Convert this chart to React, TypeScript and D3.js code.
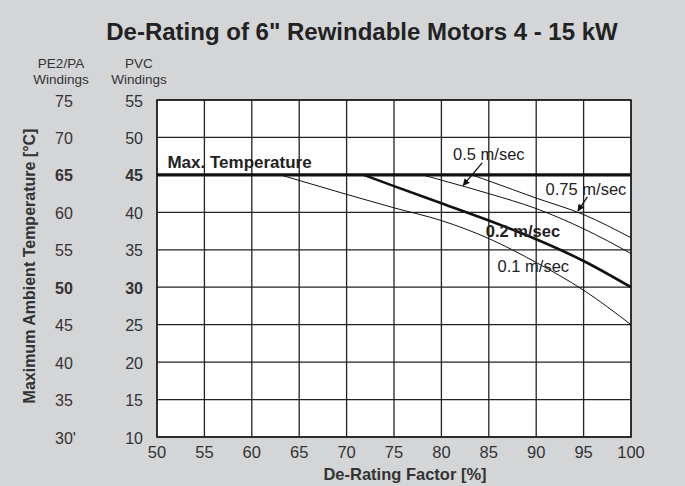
import React from "react";
import * as d3 from "d3";

// ---- data ----
const deratingTicks = [50, 55, 60, 65, 70, 75, 80, 85, 90, 95, 100];
const pvcTicks = [10, 15, 20, 25, 30, 35, 40, 45, 50, 55];
const pe2Labels = ["30'", "35", "40", "45", "50", "55", "60", "65", "70", "75"];
const boldPvcTicks = [30, 45];
const maxTemperature = 45;

const speed01X = [63, 70, 75, 80, 85, 90, 95, 100];
const speed01Y = [45, 42.4, 40.6, 38.9, 36.5, 33.3, 29.6, 25];
const speed02X = [71.8, 75, 80, 85, 90, 95, 100];
const speed02Y = [45, 43.5, 41.2, 38.9, 36.4, 33.5, 30];
const speed05X = [78, 80, 85, 90, 95, 100];
const speed05Y = [45, 44.3, 42.5, 40.5, 37.8, 34.5];
const speed075X = [83.2, 85, 90, 95, 100];
const speed075Y = [45, 44.2, 41.9, 39.7, 36.6];

const title = 'De-Rating of 6" Rewindable Motors 4 - 15 kW';
const xTitle = "De-Rating Factor [%]";
const yTitle = "Maximum Ambient Temperature [°C]";

const W = 685;
const H = 486;
const FONT = "'Liberation Sans', Arial, Helvetica, sans-serif";

export default function App() {
  const x = d3.scaleLinear().domain([50, 100]).range([157, 631]);
  const y = d3.scaleLinear().domain([10, 55]).range([437, 100]);

  const line = d3
    .line<[number, number]>()
    .x((d) => x(d[0]))
    .y((d) => y(d[1]))
    .curve(d3.curveMonotoneX);

  const zip = (xs: number[], ys: number[]) =>
    xs.map((v, i) => [v, ys[i]] as [number, number]);

  const series = [
    { pts: zip(speed01X, speed01Y), w: 1 },
    { pts: zip(speed05X, speed05Y), w: 1 },
    { pts: zip(speed075X, speed075Y), w: 1 },
    { pts: zip(speed02X, speed02Y), w: 2.6 },
  ];

  const labels = [
    { t: "0.5 m/sec", x: 85.0, y: 47.8, bold: false },
    { t: "0.75 m/sec", x: 95.25, y: 43.1, bold: false },
    { t: "0.2 m/sec", x: 88.6, y: 37.5, bold: true },
    { t: "0.1 m/sec", x: 89.7, y: 32.8, bold: false },
  ];

  const arrows = [
    { x1: 84.3, y1: 46.6, x2: 82.3, y2: 43.6 },
    { x1: 95.4, y1: 42.05, x2: 94.4, y2: 40.2 },
  ];

  return (
    <div style={{ position: "fixed", left: 0, top: 0 }}>
      <svg width={W} height={H} style={{ display: "block", fontFamily: FONT }}>
        <defs>
          <marker
            id="ah"
            viewBox="0 0 10 10"
            refX="9"
            refY="5"
            markerWidth="7"
            markerHeight="7"
            markerUnits="userSpaceOnUse"
            orient="auto"
          >
            <path d="M0,0 L10,5 L0,10 z" fill="#111" />
          </marker>
        </defs>
        <rect x={0} y={0} width={W} height={H} fill="#d4d5d7" />
        <text
          x={362}
          y={40}
          textAnchor="middle"
          fontSize={24}
          fontWeight="bold"
          fill="#222"
        >
          {title}
        </text>

        {/* plot area */}
        <rect
          x={x(50)}
          y={y(55)}
          width={x(100) - x(50)}
          height={y(10) - y(55)}
          fill="#fff"
        />
        {deratingTicks.map((t) => (
          <line
            key={"vx" + t}
            x1={x(t)}
            x2={x(t)}
            y1={y(10)}
            y2={y(55)}
            stroke="#222"
            strokeWidth={1.3}
          />
        ))}
        {pvcTicks.map((t) => (
          <line
            key={"hy" + t}
            x1={x(50)}
            x2={x(100)}
            y1={y(t)}
            y2={y(t)}
            stroke="#222"
            strokeWidth={1.3}
          />
        ))}
        <rect
          x={x(50)}
          y={y(55)}
          width={x(100) - x(50)}
          height={y(10) - y(55)}
          fill="none"
          stroke="#222"
          strokeWidth={1.6}
        />

        {/* curves */}
        {series.map((s, i) => (
          <path
            key={"s" + i}
            d={line(s.pts) || ""}
            fill="none"
            stroke="#111"
            strokeWidth={s.w}
          />
        ))}
        <line
          x1={x(50)}
          x2={x(100)}
          y1={y(maxTemperature)}
          y2={y(maxTemperature)}
          stroke="#111"
          strokeWidth={3.2}
        />
        <text
          x={x(51.1)}
          y={y(maxTemperature) - 7}
          fontSize={17}
          fontWeight="bold"
          fill="#222"
        >
          Max. Temperature
        </text>

        {labels.map((l) => (
          <text
            key={l.t}
            x={x(l.x)}
            y={y(l.y)}
            textAnchor="middle"
            dominantBaseline="central"
            fontSize={16.5}
            fontWeight={l.bold ? "bold" : "normal"}
            fill="#222"
          >
            {l.t}
          </text>
        ))}
        {arrows.map((a, i) => (
          <line
            key={"a" + i}
            x1={x(a.x1)}
            y1={y(a.y1)}
            x2={x(a.x2)}
            y2={y(a.y2)}
            stroke="#111"
            strokeWidth={1.3}
            markerEnd="url(#ah)"
          />
        ))}

        {/* x ticks */}
        {deratingTicks.map((t) => (
          <text
            key={"xt" + t}
            x={x(t)}
            y={458}
            textAnchor="middle"
            fontSize={16.5}
            fill="#333"
          >
            {t}
          </text>
        ))}
        <text
          x={405}
          y={480}
          textAnchor="middle"
          fontSize={16.5}
          fontWeight="bold"
          fill="#333"
        >
          {xTitle}
        </text>

        {/* y ticks: two columns */}
        <text x={61} y={68} textAnchor="middle" fontSize={13.5} fill="#333">
          PE2/PA
        </text>
        <text x={61} y={84} textAnchor="middle" fontSize={13.5} fill="#333">
          Windings
        </text>
        <text x={139} y={68} textAnchor="middle" fontSize={13.5} fill="#333">
          PVC
        </text>
        <text x={139} y={84} textAnchor="middle" fontSize={13.5} fill="#333">
          Windings
        </text>
        {pvcTicks.map((t, i) => (
          <g key={"yt" + t}>
            <text
              x={55}
              y={y(t) + 1}
              dominantBaseline="central"
              fontSize={16}
              fontWeight={boldPvcTicks.includes(t) ? "bold" : "normal"}
              fill="#333"
            >
              {pe2Labels[i]}
            </text>
            <text
              x={143}
              y={y(t) + 1}
              textAnchor="end"
              dominantBaseline="central"
              fontSize={16}
              fontWeight={boldPvcTicks.includes(t) ? "bold" : "normal"}
              fill="#333"
            >
              {t}
            </text>
          </g>
        ))}
        <text
          transform={`translate(35,266) rotate(-90)`}
          textAnchor="middle"
          fontSize={16}
          fontWeight="bold"
          fill="#333"
        >
          {yTitle}
        </text>
      </svg>
    </div>
  );
}
